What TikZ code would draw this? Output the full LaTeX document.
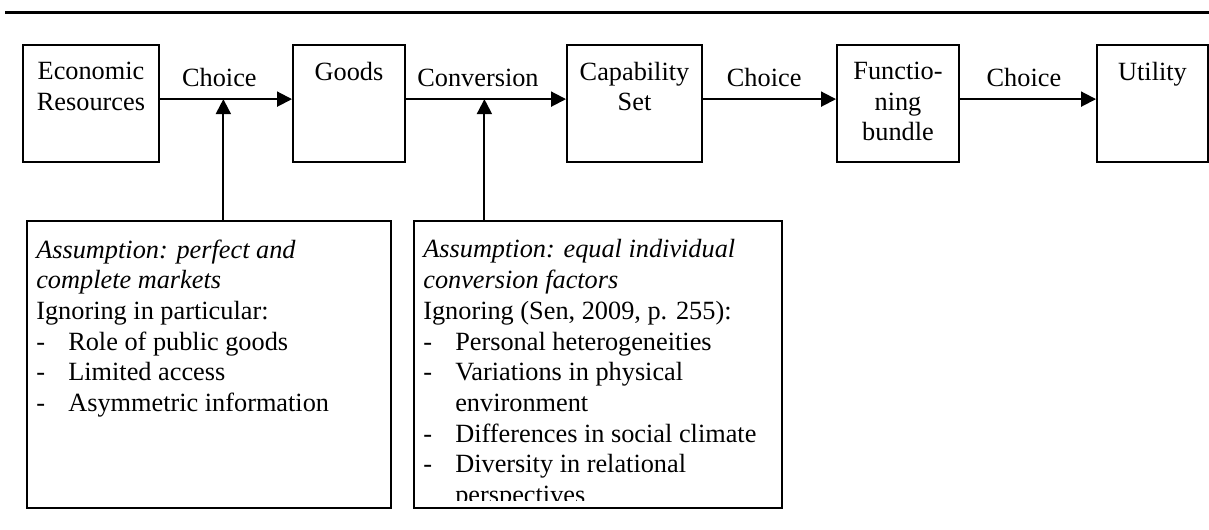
\documentclass[tikz,border=0pt]{standalone}
\usepackage{fontspec}
\setmainfont{Liberation Serif}
\usetikzlibrary{arrows.meta,positioning}
\newdimen\pxu \pxu=0.4563pt
\newcommand{\itm}[1]{\makebox[14.6pt][l]{-}#1}
\newcommand{\cnt}[1]{\hspace*{14.6pt}#1}
\tikzset{
    box/.style = {draw, line width=0.9pt, minimum height=117\pxu, inner sep=0pt},
    boxtxt/.style = {align=center, inner xsep=0pt, inner ysep=8pt},
    asmbox/.style = {draw, line width=0.9pt, minimum height=287\pxu, inner sep=0pt},
    asmtxt/.style = {align=left, inner xsep=4.5pt, inner ysep=8.8pt},
    flow/.style = {line width=0.9pt, -{Triangle[length=6.8pt,width=6.8pt]}},
    lbl/.style = {above, inner sep=5pt}
}
\begin{document}
\begin{tikzpicture}[x=\pxu, y=-\pxu,
        every node/.style = {font=\fontsize{12}{14}\selectfont}]
    \useasboundingbox (0,0) rectangle (1209,529);
    % rule above the figure
    \coordinate (rulel) at (5,12.5);
    \coordinate (ruler) at (1209,12.5);
    \draw[line width=1.3pt] (rulel) -- (ruler);

    % chain of boxes
    \node[box, minimum width=136\pxu] (econ)  at (91,103.5)    {};
    \node[box, minimum width=112\pxu] (goods) at (349,103.5)   {};
    \node[box, minimum width=135\pxu] (cap)   at (634.5,103.5) {};
    \node[box, minimum width=122\pxu] (func)  at (898,103.5)   {};
    \node[box, minimum width=111\pxu] (util)  at (1152.5,103.5) {};

    \node[boxtxt, below=0pt of econ.north]  (econtxt)  {Economic\\Resources};
    \node[boxtxt, below=0pt of goods.north] (goodstxt) {Goods};
    \node[boxtxt, below=0pt of cap.north]   (captxt)   {Capability\\Set};
    \node[boxtxt, below=0pt of func.north]  (functxt)  {Functio-\\ning\\bundle};
    \node[boxtxt, below=0pt of util.north]  (utiltxt)  {Utility};

    \draw[flow] ([yshift=2pt]econ.east) -- node[lbl, pos=0.45] (choicea) {Choice}
        coordinate[pos=0.48] (ca) ([yshift=2pt]goods.west);
    \draw[flow] ([yshift=2pt]goods.east) -- node[lbl, pos=0.45] (conv) {Conversion}
        coordinate[pos=0.49] (cb) ([yshift=2pt]cap.west);
    \draw[flow] ([yshift=2pt]cap.east) -- node[lbl, pos=0.46] (choiceb) {Choice}
        ([yshift=2pt]func.west);
    \draw[flow] ([yshift=2pt]func.east) -- node[lbl, pos=0.47] (choicec) {Choice}
        ([yshift=2pt]util.west);

    % assumption boxes
    \node[asmbox, minimum width=364\pxu] (asma) at (209,364.5) {};
    \node[asmbox, minimum width=368\pxu] (asmb) at (598,364.5) {};

    \node[asmtxt, below right=0pt and 0pt of asma.north west] (asmatxt)
        {\textit{Assumption: perfect and}\\
         \textit{complete markets}\\
         Ignoring in particular:\\
         \itm{Role of public goods}\\
         \itm{Limited access}\\
         \itm{Asymmetric information}};
    \begin{scope}
        \clip (asmb.north west) rectangle ([yshift=4.1pt]asmb.south east);
        \node[asmtxt, below right=0pt and 0pt of asmb.north west] (asmbtxt)
            {\textit{Assumption: equal individual}\\
             \textit{conversion factors}\\
             Ignoring (Sen, 2009, p. 255):\\
             \itm{Personal heterogeneities}\\
             \itm{Variations in physical}\\
             \cnt{environment}\\
             \itm{Differences in social climate}\\
             \itm{Diversity in relational}\\
             \cnt{perspectives}};
    \end{scope}

    \draw[flow] (asma.north -| ca) -- (ca);
    \draw[flow] (asmb.north -| cb) -- (cb);
\end{tikzpicture}
\end{document}
